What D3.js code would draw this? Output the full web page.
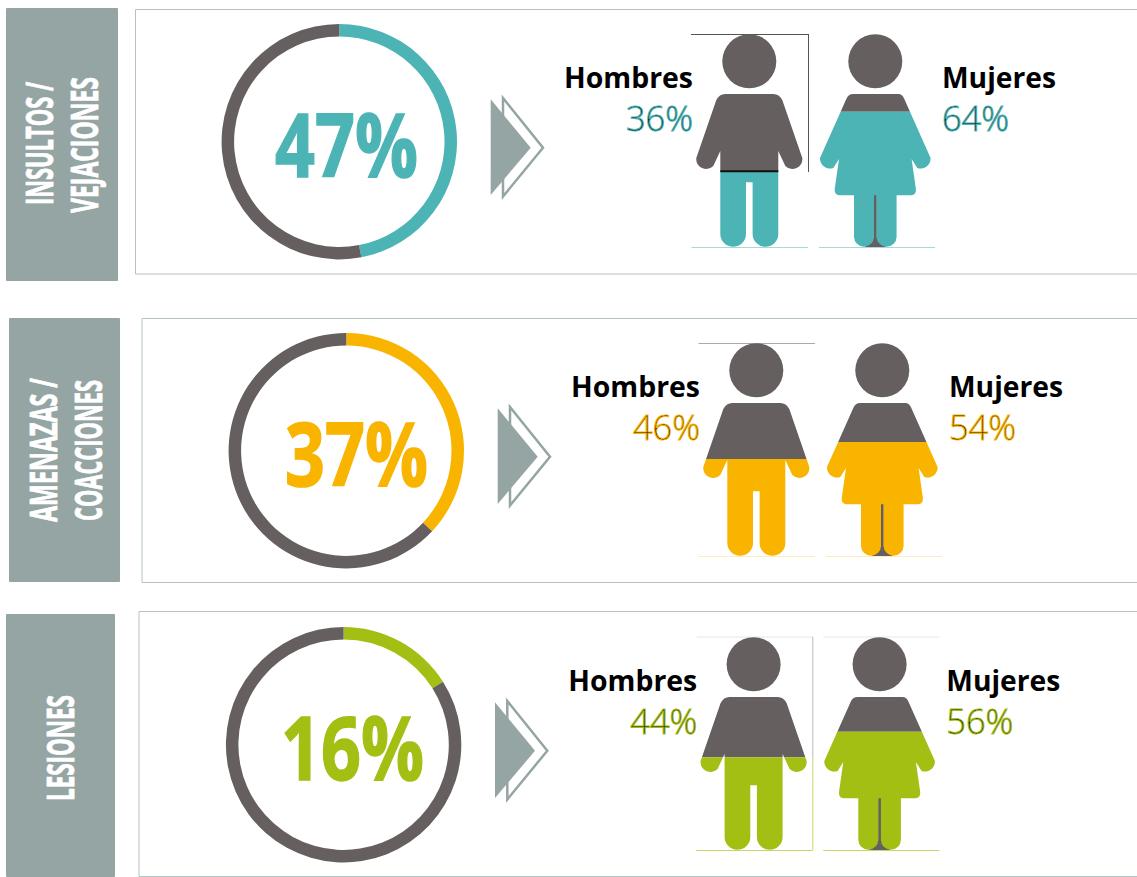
<!DOCTYPE html>
<html>
<head>
<meta charset="utf-8">
<script src="https://cdn.jsdelivr.net/npm/d3@7"></script>
<style>
  html, body { margin: 0; padding: 0; background: #fff; }
  svg { display: block; }
  text { font-family: "Open Sans", sans-serif; }
</style>
</head>
<body>
<div id="chart"></div>
<script>
// values
const categories = [['INSULTOS /', 'VEJACIONES'], ['AMENAZAS /', 'COACCIONES'], ['LESIONES']]
const totals = [47, 37, 16]
const hombres = [36, 46, 44]
const mujeres = [64, 54, 56]

const colors = ['#4db4b6', '#f9b400', '#a3bf14']
const paleColors = ['#a5d9da', '#fcecc0', '#c6d768']
const grey = '#665f5f'
const slate = '#95a5a3'

// layout of the three rows, they are not quite aligned in the original
const rowX = [0, 7, 4.3]
const rowY = [0, 309, 603]
const panels = [[135.5, 9.5, 264.5], [142, 318.5, 264], [139, 611.5, 265]]
const sides = [[6, 8, 112, 273], [9, 318, 111, 264], [6, 614, 109, 263]]
const bigX = [275, 285, 281]
const sideLabels = [
    [{x: 53, y: 205, len: 123}, {x: 98, y: 213, len: 136}],
    [{x: 57, y: 522, len: 144}, {x: 102, y: 521, len: 141}],
    [{x: 74, y: 801, len: 106}]
]

const width = 1137
const height = 877
const manX = 749.3
const womanX = 875.3
const topY = 34
const ringX = 339.3
const ringY = 141.7

const manPath = 'M-24,60L24,60Q30,60 33,66L53,124A10,10 0 0 1 36,132L29,117L29,200' +
    'A12.85,12.85 0 0 1 3.3,200L3.3,148.3L-3.3,148.3L-3.3,200A12.85,12.85 0 0 1 -29,200' +
    'L-29,117L-36,132A10,10 0 0 1 -53,124L-33,66Q-30,60 -24,60Z'
const womanPath = 'M-22,60L23,60Q27,60 29,65L55.3,124A10,10 0 0 1 42,134L36.3,125L40.6,155' +
    'Q41,161 36,161.3L21.3,161.3L21.3,202.7A10,10 0 0 1 1.3,202.7L1.3,161.3L-1.3,161.3' +
    'L-1.3,202.7A10,10 0 0 1 -21.3,202.7L-21.3,161.3L-36,161.3Q-41,161 -40.6,155L-36.3,125' +
    'L-42,134A10,10 0 0 1 -55.3,124L-29,65Q-27,60 -22,60Z'

const svg = d3.select('#chart')
    .append('svg')
    .attr('width', width)
    .attr('height', height)
    .attr('viewBox', [0, 0, width, height])

const defs = svg.append('defs')

// figures are 213px tall, the value is how high the colour climbs
const fillY = d3.scaleLinear().domain([0, 100]).range([214, 1])
const pie = d3.pie().sort(null).startAngle(0).endAngle(2 * Math.PI)
const arc = d3.arc().innerRadius(105.2).outerRadius(117.7)

function figure(g, id, path, x, value, color) {
    const split = fillY(value)
    defs.append('clipPath').attr('id', 'top-' + id)
        .append('rect').attr('x', -70).attr('y', 0).attr('width', 140).attr('height', split)
    defs.append('clipPath').attr('id', 'bottom-' + id)
        .append('rect').attr('x', -70).attr('y', split).attr('width', 140).attr('height', 220 - split)

    const f = g.append('g').attr('transform', `translate(${x},${topY})`)
    if (path === womanPath) {
        f.append('rect').attr('x', -1.5).attr('y', 161).attr('width', 3).attr('height', 52).attr('fill', grey)
        f.append('rect').attr('x', -10).attr('y', 204).attr('width', 20).attr('height', 9).attr('fill', grey)
    }
    f.append('circle').attr('cx', 0).attr('cy', 27.3).attr('r', 27).attr('fill', grey)
    f.append('path').attr('d', path).attr('fill', grey).attr('clip-path', `url(#top-${id})`)
    f.append('path').attr('d', path).attr('fill', color).attr('clip-path', `url(#bottom-${id})`)
    return f
}

function line(g, x1, y1, x2, y2, color, w) {
    g.append('line')
        .attr('x1', x1).attr('y1', y1).attr('x2', x2).attr('y2', y2)
        .attr('stroke', color).attr('stroke-width', w || 1)
}

// the original font is condensed, squeeze the glyphs to the measured length
function squeeze(t, x, y, len, rotate) {
    const sx = len / t.node().getComputedTextLength()
    t.attr('transform', `translate(${x},${y})${rotate ? ' rotate(-90)' : ''} scale(${sx},1)`)
}

function percent(g, value, x, color) {
    // dark core with the colour stroked over it, as in the original
    const t = g.append('text').text(value + '%')
        .attr('font-size', 34).attr('font-weight', 300)
        .attr('fill', '#000')
        .attr('stroke', color).attr('stroke-width', 1)
    squeeze(t, x, 131, 67)
}

totals.forEach(function(total, i) {
    const color = colors[i]

    svg.append('rect')
        .attr('x', sides[i][0]).attr('y', sides[i][1])
        .attr('width', sides[i][2]).attr('height', sides[i][3])
        .attr('rx', 1).attr('fill', slate)

    svg.append('path')
        .attr('d', `M${width + 2},${panels[i][1]}H${panels[i][0]}V${panels[i][1] + panels[i][2]}H${width + 2}`)
        .attr('fill', 'none').attr('stroke', '#b4c2c1').attr('stroke-width', 1)

    categories[i].forEach(function(label, k) {
        const s = sideLabels[i][k]
        const t = svg.append('text')
            .text(label)
            .attr('font-size', 37)
            .attr('font-weight', 700)
            .attr('fill', '#fff')
            .attr('stroke', '#fff')
            .attr('stroke-width', 0.8)
        squeeze(t, s.x, s.y, s.len, true)
    })

    const g = svg.append('g').attr('transform', `translate(${rowX[i]},${rowY[i]})`)

    // ring
    g.append('g')
        .attr('transform', `translate(${ringX},${ringY})`)
        .selectAll('path')
        .data(pie([total, 100 - total]))
        .enter()
        .append('path')
        .attr('d', arc)
        .attr('fill', function(d, k) { return k === 0 ? color : grey })

    const big = svg.append('text')
        .text(total + '%')
        .attr('font-size', 88)
        .attr('font-weight', 700)
        .attr('fill', color)
        .attr('stroke', color)
        .attr('stroke-width', 1.5)
    squeeze(big, bigX[i], rowY[i] + 176.5, 143)

    // arrow
    g.append('polygon')
        .attr('points', '503,98 543,147.7 503,196.5')
        .attr('fill', '#fff').attr('stroke', slate).attr('stroke-width', 2.5)
    g.append('polygon')
        .attr('points', '490.7,99.3 530.7,147.7 490.7,195')
        .attr('fill', slate)

    // thin guide lines left over in the original artwork
    const pale = paleColors[i]
    line(g, 691.5, 247.5, 808, 247.5, pale)
    line(g, 819, 247.5, 935, 247.5, pale)
    if (i === 0) {
        line(g, 691, 34.5, 809, 34.5, '#555')
        line(g, 808.5, 34, 808.5, 172, '#555')
    }
    if (i === 1) {
        line(g, 691.5, 34.5, 808, 34.5, '#aaa')
    }
    if (i === 2) {
        line(g, 692.5, 34, 808.5, 34, '#e6e6e6')
        line(g, 819, 34, 935, 34, '#e6e6e6')
        line(g, 808.5, 34, 808.5, 154, '#bbb')
        line(g, 808.5, 154, 808.5, 247.5, pale)
    }

    figure(g, 'man' + i, manPath, manX, hombres[i], color)
    figure(g, 'woman' + i, womanPath, womanX, mujeres[i], color)

    if (i === 0) {
        // black seam at the colour change of the first figure
        line(g, manX - 29, topY + fillY(hombres[i]), manX + 29, topY + fillY(hombres[i]), '#111', 2)
    }

    const man = g.append('text').text('Hombres')
        .attr('font-size', 28).attr('font-weight', 700).attr('fill', '#000')
    squeeze(man, 564, 88, 129)
    const woman = g.append('text').text('Mujeres')
        .attr('font-size', 28).attr('font-weight', 700).attr('fill', '#000')
    squeeze(woman, 942, 88, 114)

    percent(g, hombres[i], 626, color)
    percent(g, mujeres[i], 942, color)
})
</script>
</body>
</html>
